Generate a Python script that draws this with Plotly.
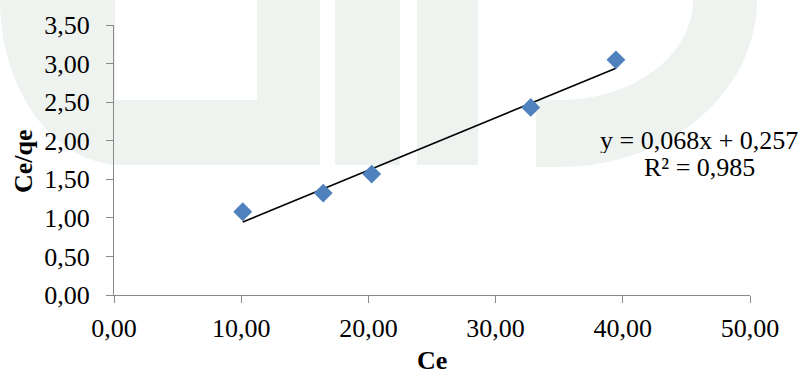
import plotly.graph_objects as go
import math

# ---- data ----
ce = [10.12, 16.45, 20.26, 32.76, 39.46]
ce_qe = [1.079, 1.321, 1.567, 2.432, 3.048]
slope = 0.068
intercept = 0.257
eq_text = "y = 0,068x + 0,257"
r2_text = "R² = 0,985"
x_ticks = [0, 10, 20, 30, 40, 50]
y_ticks = [0, 0.5, 1.0, 1.5, 2.0, 2.5, 3.0, 3.5]

W, H = 803, 376
L, R, T, B = 114, 53, 25, 81
PW, PH = W - L - R, H - T - B

def px(x):
    return (x - L) / PW

def py(y):
    return (H - B - y) / PH

def path(points, closed=True):
    s = "M " + " L ".join(f"{px(a):.5f},{py(b):.5f}" for a, b in points)
    return s + (" Z" if closed else "")

wm = "#EEF3F0"
shapes = []
u_outer = [(0, -5)]
for i in range(0, 21):
    t = i / 20 * math.pi / 2
    u_outer.append((122 - 122 * math.cos(t), 165 * math.sin(t)))
u_pts = u_outer + [(320, 165), (320, -5), (257, -5), (257, 100), (115, 100), (115, -5)]
shapes.append(dict(type="path", path=path(u_pts), xref="paper", yref="paper",
                   fillcolor=wm, line=dict(width=0), layer="below"))
shapes.append(dict(type="path", path=path([(335, -5), (400, -5), (400, 165), (335, 165)]),
                   xref="paper", yref="paper", fillcolor=wm, line=dict(width=0), layer="below"))
shapes.append(dict(type="path", path=path([(417, -5), (478, -5), (478, 165), (417, 165)]),
                   xref="paper", yref="paper", fillcolor=wm, line=dict(width=0), layer="below"))
outer = []
inner = []
for i in range(0, 21):
    t = i / 20 * math.pi / 2
    outer.append((560 + 197 * math.sin(t), 167 * math.cos(t)))
for i in range(20, -1, -1):
    t = i / 20 * math.pi / 2
    inner.append((560 + 133 * math.sin(t), 100 * math.cos(t)))
band = [(536, 167)] + outer + [(757, -5), (693, -5)] + inner + [(536, 100)]
shapes.append(dict(type="path", path=path(band), xref="paper", yref="paper",
                   fillcolor=wm, line=dict(width=0), layer="below"))

fig = go.Figure()
x_line = [min(ce), max(ce)]
y_line = [slope * v + intercept for v in x_line]
fig.add_trace(go.Scatter(x=x_line, y=y_line, mode="lines",
                         line=dict(color="black", width=1.6), hoverinfo="skip"))
fig.add_trace(go.Scatter(x=ce, y=ce_qe, mode="markers",
                         marker=dict(symbol="diamond", size=14.5, color="#4F81BD",
                                     line=dict(width=0))))

font = dict(family="Liberation Serif, Times New Roman, serif", size=26, color="black")
axis_common = dict(showline=True, linecolor="#898989", linewidth=1.3, ticks="outside",
                   ticklen=7, tickcolor="#898989", tickwidth=1.3, showgrid=False,
                   zeroline=False, tickformat=".2f", tickfont=font)
fig.update_xaxes(range=[0, 50], tickvals=x_ticks, ticklabelstandoff=3, **axis_common)
fig.update_yaxes(range=[0, 3.5], tickvals=y_ticks, ticklabelstandoff=11, **axis_common)

bold = dict(family="Liberation Serif, Times New Roman, serif", size=26, color="black",
            weight="bold")
annotations = [
    dict(text="Ce", x=0.5, y=py(376), xref="paper", yref="paper", showarrow=False,
         font=bold, xanchor="center", yanchor="bottom", borderpad=0),
    dict(text="Ce/qe", x=px(23), y=py(161), xref="paper", yref="paper", showarrow=False,
         font=bold, textangle=-90, xanchor="center", yanchor="middle"),
    dict(text=eq_text, x=px(699), y=py(140), xref="paper", yref="paper", showarrow=False,
         font=font, xanchor="center", yanchor="middle", height=26, borderpad=0),
    dict(text=r2_text, x=px(699), y=py(167), xref="paper", yref="paper", showarrow=False,
         font=font, xanchor="center", yanchor="middle", height=26, borderpad=0),
]

fig.update_layout(width=W, height=H, margin=dict(l=L, r=R, t=T, b=B, autoexpand=False),
                  paper_bgcolor="white", plot_bgcolor="rgba(0,0,0,0)", showlegend=False,
                  separators=",.", shapes=shapes, annotations=annotations, font=font)
fig.write_html("out.html")
